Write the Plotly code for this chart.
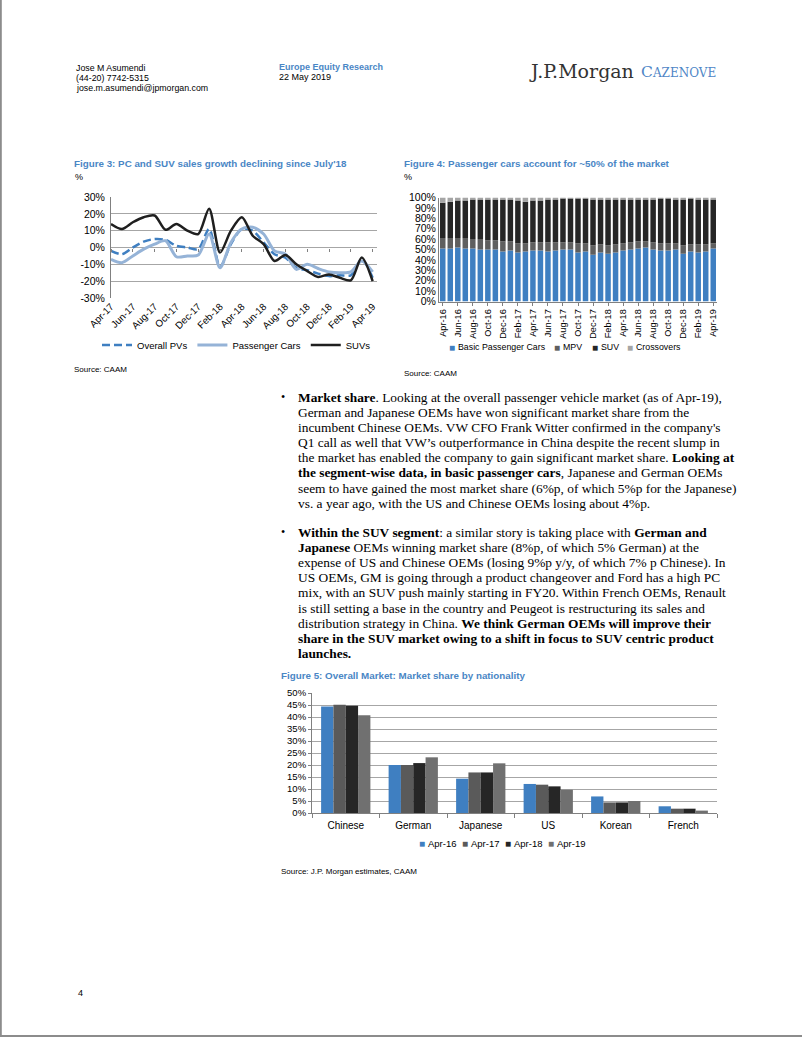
import plotly.graph_objects as go
import numpy as np

W, H = 802, 1037


def X(px):
    return px / W


def Y(py):
    return 1 - py / H


SANS = "Liberation Sans, Arial, sans-serif"
SERIF = "Liberation Serif, Times New Roman, serif"
LOGO = "DejaVu Serif, Liberation Serif, serif"
TITLE_BLUE = "#4a86c5"
BLUE = "#3f7fc1"
GRID = "#a6a6a6"

# ---------------- Figure 3 data ----------------
fig3_months = ["Apr-17", "May-17", "Jun-17", "Jul-17", "Aug-17", "Sep-17", "Oct-17",
               "Nov-17", "Dec-17", "Jan-18", "Feb-18", "Mar-18", "Apr-18", "May-18",
               "Jun-18", "Jul-18", "Aug-18", "Sep-18", "Oct-18", "Nov-18", "Dec-18",
               "Jan-19", "Feb-19", "Mar-19", "Apr-19"]
fig3_tick_months = ["Apr-17", "Jun-17", "Aug-17", "Oct-17", "Dec-17", "Feb-18", "Apr-18",
                    "Jun-18", "Aug-18", "Oct-18", "Dec-18", "Feb-19", "Apr-19"]
fig3_overall_pvs = [-2, -4, 0, 3.5, 5, 4.5, 1, 0, -1, 11, -11.5, 2, 11, 10, 3, -4, -6,
                    -12, -13.5, -15.5, -17, -16.5, -16.5, -7, -18]
fig3_passenger_cars = [-7, -9, -5, -1, 2, 4, -5.5, -5, -4.5, 8, -12, 3, 11, 12, 8, -2, -4,
                       -13, -10, -12.5, -14.5, -15, -14.5, -8, -14.5]
fig3_suvs = [14, 11, 15, 18, 19, 10.5, 14, 10, 8, 23, -3, 10, 18, 7, 2, -8, -4.5,
             -10, -14, -17.5, -16, -18, -19.5, -6, -20]
fig3_yticks = [-30, -20, -10, 0, 10, 20, 30]
fig3_yticklabels = ["-30%", "-20%", "-10%", "0%", "10%", "20%", "30%"]

# ---------------- Figure 4 data ----------------
fig4_months = ["Apr-16", "May-16", "Jun-16", "Jul-16", "Aug-16", "Sep-16", "Oct-16",
               "Nov-16", "Dec-16", "Jan-17", "Feb-17", "Mar-17", "Apr-17", "May-17",
               "Jun-17", "Jul-17", "Aug-17", "Sep-17", "Oct-17", "Nov-17", "Dec-17",
               "Jan-18", "Feb-18", "Mar-18", "Apr-18", "May-18", "Jun-18", "Jul-18",
               "Aug-18", "Sep-18", "Oct-18", "Nov-18", "Dec-18", "Jan-19", "Feb-19",
               "Mar-19", "Apr-19"]
fig4_tick_months = fig4_months[::2]
fig4_basic = [51, 51, 52, 51, 51, 50, 50, 50, 48, 49, 47, 48, 49, 49, 48, 49, 50, 50, 47,
              48, 45, 47, 46, 47, 49, 50, 51, 52, 50, 49, 49, 50, 46, 48, 47, 48, 51]
fig4_mpv = [10, 10, 9, 10, 9, 10, 9, 9, 10, 9, 9, 8, 8, 8, 9, 8, 7, 7, 9, 8, 9, 8, 8, 8,
            7, 7, 7, 6, 7, 7, 7, 6, 8, 7, 8, 7, 5]
fig4_suv = [34, 35, 36, 36, 38, 38, 39, 39, 40, 40, 41, 40, 40, 40, 41, 41, 42, 42, 43,
            43, 44, 43, 44, 43, 42, 41, 40, 40, 41, 43, 43, 42, 44, 44, 43, 43, 42]
fig4_crossovers = [5, 4, 3, 3, 2, 2, 2, 2, 2, 2, 3, 4, 3, 3, 2, 2, 1, 1, 1, 1, 2, 2, 2,
                   2, 2, 2, 2, 2, 2, 1, 1, 2, 2, 1, 2, 2, 2]
fig4_yticks = [0, 10, 20, 30, 40, 50, 60, 70, 80, 90, 100]
fig4_yticklabels = ["0%", "10%", "20%", "30%", "40%", "50%", "60%", "70%", "80%", "90%", "100%"]

# ---------------- Figure 5 data ----------------
fig5_nationalities = ["Chinese", "German", "Japanese", "US", "Korean", "French"]
fig5_apr16 = [44.4, 20.0, 14.3, 12.1, 6.9, 2.8]
fig5_apr17 = [45.1, 20.0, 16.9, 11.8, 4.4, 1.8]
fig5_apr18 = [44.7, 20.8, 16.9, 11.1, 4.4, 1.8]
fig5_apr19 = [40.7, 23.2, 20.7, 9.7, 5.0, 1.0]
fig5_yticks = [0, 5, 10, 15, 20, 25, 30, 35, 40, 45, 50]
fig5_yticklabels = ["0%", "5%", "10%", "15%", "20%", "25%", "30%", "35%", "40%", "45%", "50%"]

fig = go.Figure()

# ---------------- Figure 3 traces ----------------
fig.add_trace(go.Scatter(x=fig3_months, y=fig3_overall_pvs, name="Overall PVs", mode="lines",
                         line=dict(color=BLUE, width=2.5, dash="8px,4px", shape="spline", smoothing=0.8),
                         xaxis="x", yaxis="y", legend="legend"))
fig.add_trace(go.Scatter(x=fig3_months, y=fig3_passenger_cars, name="Passenger Cars", mode="lines",
                         line=dict(color="#95b3d7", width=3, shape="spline", smoothing=0.8),
                         xaxis="x", yaxis="y", legend="legend"))
fig.add_trace(go.Scatter(x=fig3_months, y=fig3_suvs, name="SUVs", mode="lines",
                         line=dict(color="#1f1f1f", width=2.5, shape="spline", smoothing=0.8),
                         xaxis="x", yaxis="y", legend="legend"))
# helper trace so the zero-line tick axis is drawn
fig.add_trace(go.Scatter(x=fig3_months, y=[None] * len(fig3_months), mode="lines",
                         showlegend=False, hoverinfo="skip", xaxis="x2", yaxis="y"))

# ---------------- Figure 4 traces (stacked via base) ----------------
b = np.array(fig4_basic, dtype=float)
m = np.array(fig4_mpv, dtype=float)
s = np.array(fig4_suv, dtype=float)
c = np.array(fig4_crossovers, dtype=float)
fig4_series = [
    ("Basic Passenger Cars", b, np.zeros_like(b), BLUE),
    ("MPV", m, b, "#5f5f5f"),
    ("SUV", s, b + m, "#262626"),
    ("Crossovers", c, b + m + s, "#a5a5a5"),
]
for name, vals, base, col in fig4_series:
    fig.add_trace(go.Bar(x=fig4_months, y=vals, base=base, name=name, marker_color=col,
                         marker_line_width=0, offsetgroup="stack4", showlegend=False,
                         xaxis="x3", yaxis="y3"))

# ---------------- Figure 5 traces ----------------
fig5_series = [("Apr-16", fig5_apr16, BLUE), ("Apr-17", fig5_apr17, "#5a5a5a"),
               ("Apr-18", fig5_apr18, "#262626"), ("Apr-19", fig5_apr19, "#707070")]
for i, (name, vals, col) in enumerate(fig5_series):
    fig.add_trace(go.Bar(x=fig5_nationalities, y=vals, name=name, marker_color=col,
                         marker_line_width=0, offsetgroup="g%d" % i, showlegend=False,
                         xaxis="x4", yaxis="y4"))

tickfont = dict(family=SANS, size=10.5, color="#000")

fig.update_layout(
    width=W, height=H, margin=dict(l=0, r=0, t=0, b=0, autoexpand=False),
    paper_bgcolor="white", plot_bgcolor="white",
    barmode="group", bargap=0.27, bargroupgap=0,
    font=dict(family=SANS, size=10, color="#000"),
    hovermode=False,
    # Figure 3 axes
    xaxis=dict(domain=[X(111), X(377)], anchor="y", type="category",
               range=[0, 24.4], tickvals=fig3_tick_months, ticktext=fig3_tick_months,
               tickangle=-45, tickfont=dict(family=SANS, size=9.8), showgrid=False,
               showline=False, ticks="", zeroline=False, automargin=False),
    xaxis2=dict(overlaying="x", anchor="free", position=Y(247.5), type="category",
                range=[0, 24.4], tickvals=fig3_tick_months, showticklabels=False,
                ticks="outside", ticklen=3, tickcolor="#808080", showgrid=False,
                showline=False, zeroline=False, automargin=False),
    yaxis=dict(domain=[Y(298), Y(197)], anchor="x", range=[-30, 30],
               tickvals=fig3_yticks, ticktext=fig3_yticklabels, tickfont=tickfont,
               showgrid=True, gridcolor=GRID, gridwidth=1, zeroline=False,
               showline=True, linecolor="#808080", linewidth=1, ticks="",
               ticklabelstandoff=3, automargin=False),
    # Figure 4 axes
    xaxis3=dict(domain=[X(439), X(717)], anchor="y3", type="category",
                range=[-0.5, 36.5], tickvals=fig4_tick_months, ticktext=fig4_tick_months,
                tickangle=-90, tickfont=dict(family=SANS, size=9.2), showgrid=False,
                showline=True, linecolor="#808080", ticks="outside", ticklen=3,
                tickcolor="#808080", zeroline=False, automargin=False),
    yaxis3=dict(domain=[Y(301.5), Y(197.5)], anchor="x3", range=[0, 100],
                tickvals=fig4_yticks, ticktext=fig4_yticklabels, tickfont=tickfont,
                showgrid=False, zeroline=False, showline=True, linecolor="#808080",
                ticks="", automargin=False),
    # Figure 5 axes
    xaxis4=dict(domain=[X(312), X(717)], anchor="y4", type="category",
                tickfont=dict(family=SANS, size=10), showgrid=False,
                showline=True, linecolor="#808080", ticks="outside", ticklen=4,
                tickson="boundaries", tickcolor="#808080", zeroline=False,
                ticklabelstandoff=3, automargin=False),
    yaxis4=dict(domain=[Y(813), Y(693)], anchor="x4", range=[0, 50],
                tickvals=fig5_yticks, ticktext=fig5_yticklabels,
                tickfont=dict(family=SANS, size=9.5, color="#000"),
                showgrid=True, gridcolor=GRID, zeroline=False, showline=True,
                linecolor="#808080", ticks="outside", ticklen=3, tickcolor="#808080",
                automargin=False),
    legend=dict(orientation="h", x=X(97), y=Y(345), xanchor="left", yanchor="middle",
                font=dict(family=SANS, size=9.5), itemwidth=30, bgcolor="rgba(0,0,0,0)",
                traceorder="normal", borderwidth=0),
)

ann = []


def txt(x, y, text, size=10, color="#000", family=SANS, anchor="left"):
    ann.append(dict(x=X(x), y=Y(y), xref="paper", yref="paper", text=text, showarrow=False,
                    xanchor=anchor, yanchor="middle", align="left", borderpad=0,
                    font=dict(family=family, size=size, color=color)))


# Header
txt(75, 68, "Jose M Asumendi", 8.8)
txt(75, 78, "(44-20) 7742-5315", 8.8)
txt(75, 88, "jose.m.asumendi@jpmorgan.com", 8.8)
txt(278, 67, "<b>Europe Equity Research</b>", 9, TITLE_BLUE)
txt(278, 77, "22 May 2019", 9)
txt(528, 71, "J.P.Morgan", 19, "#333333", LOGO)
txt(640, 72, "C<span style='font-size:12px'>AZENOVE</span>", 15.5, "#4f86c6", LOGO)

# Figure titles and sources
txt(73, 163, "<b>Figure 3: PC and SUV sales growth declining since July'18</b>", 9.8, TITLE_BLUE)
txt(74, 177, "%", 9)
txt(73, 369, "Source: CAAM", 8)
txt(403, 163, "<b>Figure 4: Passenger cars account for ~50% of the market</b>", 9.8, TITLE_BLUE)
txt(403, 177, "%", 9)
txt(403, 374, "Source: CAAM", 8)
txt(280, 675, "<b>Figure 5: Overall Market: Market share by nationality</b>", 9.8, TITLE_BLUE)
txt(280, 871, "Source: J.P. Morgan estimates, CAAM", 8)

# Text-based legends for the bar charts (small square keys)
fig4_legend_x = [452, 557, 595, 630]
for (name, vals, base, col), lx in zip(fig4_series, fig4_legend_x):
    txt(lx, 347, "\u25a0", 10, col, SANS, anchor="center")
    txt(lx + 5, 347, name, 8.8)
fig5_legend_x = [422, 465, 508, 551]
for (name, vals, col), lx in zip(fig5_series, fig5_legend_x):
    txt(lx, 843, "\u25a0", 10, col, SANS, anchor="center")
    txt(lx + 5, 843, name, 9.5)

# Body text
para1 = [
    "<b>Market share</b>. Looking at the overall passenger vehicle market (as of Apr-19),",
    "German and Japanese OEMs have won significant market share from the",
    "incumbent Chinese OEMs. VW CFO Frank Witter confirmed in the company's",
    "Q1 call as well that VW\u2019s outperformance in China despite the recent slump in",
    "the market has enabled the company to gain significant market share. <b>Looking at</b>",
    "<b>the segment-wise data, in basic passenger cars</b>, Japanese and German OEMs",
    "seem to have gained the most market share (6%p, of which 5%p for the Japanese)",
    "vs. a year ago, with the US and Chinese OEMs losing about 4%p.",
]
para2 = [
    "<b>Within the SUV segment</b>: a similar story is taking place with <b>German and</b>",
    "<b>Japanese</b> OEMs winning market share (8%p, of which 5% German) at the",
    "expense of US and Chinese OEMs (losing 9%p y/y, of which 7% p Chinese). In",
    "US OEMs, GM is going through a product changeover and Ford has a high PC",
    "mix, with an SUV push mainly starting in FY20. Within French OEMs, Renault",
    "is still setting a base in the country and Peugeot is restructuring its sales and",
    "distribution strategy in China. <b>We think German OEMs will improve their</b>",
    "<b>share in the SUV market owing to a shift in focus to SUV centric product</b>",
    "<b>launches.</b>",
]
LS = 15.2
for start, para in ((397, para1), (532, para2)):
    txt(283, start, "\u2022", 12, "#000", SERIF, anchor="center")
    for i, line in enumerate(para):
        txt(297, start + i * LS, line, 13.4, "#000", SERIF)

txt(77, 993, "4", 9)

fig.update_layout(annotations=ann)

# page frame (left and bottom edges)
fig.add_shape(type="line", xref="paper", yref="paper", x0=0.001, x1=0.001, y0=0, y1=1,
              line=dict(color="#8c8c8c", width=2))
fig.add_shape(type="line", xref="paper", yref="paper", x0=0, x1=1, y0=0.001, y1=0.001,
              line=dict(color="#8c8c8c", width=2))

fig.write_html("out.html",
               config={"displayModeBar": False, "staticPlot": True},
               post_script="document.body.style.margin='0px';"
                           "document.body.style.overflow='hidden';")
